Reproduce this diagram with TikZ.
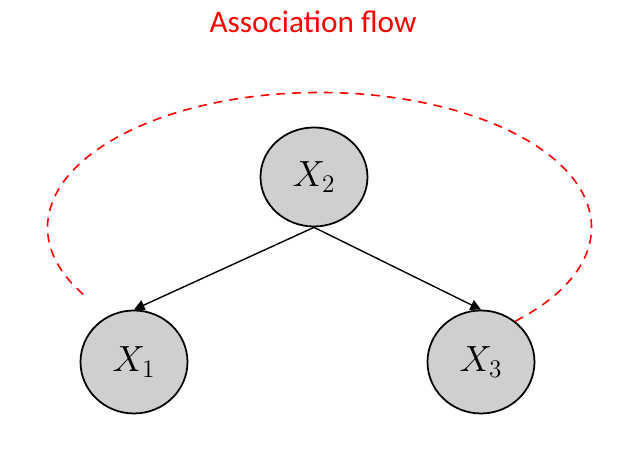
\documentclass[tikz,border=0pt]{standalone}
\usepackage{fontspec}
\usepackage{tikz}
\usetikzlibrary{arrows.meta,shapes.geometric,positioning}
\newfontfamily\titlefont{Carlito}
\definecolor{nodegray}{RGB}{208,206,207}
\definecolor{flowred}{RGB}{255,0,0}
\tikzset{
  varnode/.style={draw, ellipse, line width=1pt, fill=nodegray, minimum width=2.14cm, minimum height=2.06cm, font=\fontsize{21}{24}\selectfont},
  causal/.style={-{Triangle[length=6pt, width=6pt]}, line width=0.8pt},
  assoc/.style={flowred, line width=0.9pt, dash pattern=on 5pt off 4pt}
}

\begin{document}
\begin{tikzpicture}
  \useasboundingbox (0,0) rectangle (12.6,9.28);
  % title
  \node[text=flowred, font=\titlefont\fontsize{17.8}{20}\selectfont] (title) at (6.26,8.84) {Association flow};
  % variables
  \node[varnode, minimum height=1.98cm] (X2) at (6.28,5.74) {$X_2$};
  \node[varnode] (X1) at (2.68,2.04) {$X_1$};
  \node[varnode] (X3) at (9.62,2.04) {$X_3$};
  \draw[causal] (X2.south) -- (X1.north);
  \draw[causal] (X2.south) -- (X3.north);
  % association path round the top
  \draw[assoc] (X3.50) arc[start angle=-44, end angle=211, x radius=5.44cm, y radius=2.7cm] coordinate (flowend);
\end{tikzpicture}
\end{document}
